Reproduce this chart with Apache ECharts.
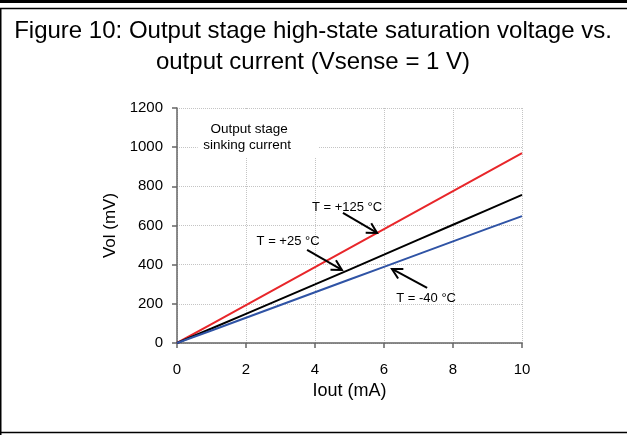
<!DOCTYPE html>
<html>
<head>
<meta charset="utf-8">
<script src="https://cdn.jsdelivr.net/npm/echarts@6/dist/echarts.min.js"></script>
<style>
html,body{margin:0;padding:0;background:#fff;}
#chart{width:627px;height:435px;}
</style>
</head>
<body>
<div id="chart"></div>
<script>
var currents = [0, 1, 2, 3, 4, 5, 6, 7, 8, 9, 10];
var volT125 = [0, 97, 194, 291, 388, 485, 582, 679, 776, 873, 970];
var volT25 = [0, 74, 149, 224, 299, 375, 451, 528, 604, 680, 756];
var volTm40 = [0, 64, 129, 194, 259, 324, 389, 454, 519, 584, 648];
var titleLines = ['Figure 10: Output stage high-state saturation voltage vs.', 'output current (Vsense = 1 V)'];
var annotations = [
  {text: 'T = +125 °C', x: 4.93, y: 694, from: [4.81, 664], to: [5.80, 562]},
  {text: 'T = +25 °C', x: 3.22, y: 521, from: [3.77, 475], to: [4.78, 373]},
  {text: 'T = -40 °C', x: 7.22, y: 230, from: [7.25, 281], to: [6.23, 378]}
];
var noteLines = ['Output stage', 'sinking current'];

function pairs(ys) { return currents.map(function (x, i) { return [x, ys[i]]; }); }

var FONT = '"Liberation Sans", Arial, sans-serif';
var chart = echarts.init(document.getElementById('chart'), null, {renderer: 'canvas'});

var option = {
  animation: false,
  backgroundColor: '#fff',
  grid: {left: 177, right: 105, top: 108, bottom: 92, containLabel: false},
  xAxis: {
    type: 'value', min: 0, max: 10, interval: 2,
    name: 'Iout (mA)', nameLocation: 'middle', nameGap: 32,
    nameTextStyle: {fontFamily: FONT, fontSize: 18, color: '#000'},
    axisLine: {show: true, onZero: false, lineStyle: {color: '#666', width: 1.5}},
    axisTick: {show: true, inside: false, length: 5, lineStyle: {color: '#666', width: 1.5}},
    axisLabel: {fontFamily: FONT, fontSize: 15, color: '#000', margin: 19, formatter: function (v) { return String(v); }},
    splitLine: {show: true, lineStyle: {color: '#c4c4c4', type: 'dotted', width: 1}}
  },
  yAxis: {
    type: 'value', min: 0, max: 1200, interval: 200,
    name: 'Vol (mV)', nameLocation: 'middle', nameGap: 56,
    nameTextStyle: {fontFamily: FONT, fontSize: 17, color: '#000'},
    axisLine: {show: true, onZero: false, lineStyle: {color: '#666', width: 1.5}},
    axisTick: {show: true, inside: false, length: 5, lineStyle: {color: '#666', width: 1.5}},
    axisLabel: {fontFamily: FONT, fontSize: 15, color: '#000', margin: 14, formatter: function (v) { return String(v); }},
    splitLine: {show: true, lineStyle: {color: '#c4c4c4', type: 'dotted', width: 1}}
  },
  series: [
    {type: 'line', name: 'T = +125 °C', data: pairs(volT125), showSymbol: false, lineStyle: {color: '#e8262a', width: 2}, z: 3},
    {type: 'line', name: 'T = +25 °C', data: pairs(volT25), showSymbol: false, lineStyle: {color: '#000000', width: 2}, z: 3},
    {type: 'line', name: 'T = -40 °C', data: pairs(volTm40), showSymbol: false, lineStyle: {color: '#2f53a5', width: 2}, z: 3}
  ]
};
chart.setOption(option);

function px(pt) { return chart.convertToPixel({gridIndex: 0}, pt); }

var g = [];
// frame lines
g.push({type: 'rect', shape: {x: 0, y: 0, width: 627, height: 3}, style: {fill: '#000'}, z: 100});
g.push({type: 'line', shape: {x1: 0, y1: 8.5, x2: 627, y2: 8.5}, style: {stroke: '#000', lineWidth: 1.5}, z: 100});
g.push({type: 'line', shape: {x1: 0.75, y1: 8, x2: 0.75, y2: 435}, style: {stroke: '#000', lineWidth: 1.5}, z: 100});
g.push({type: 'line', shape: {x1: 0, y1: 432.5, x2: 627, y2: 432.5}, style: {stroke: '#000', lineWidth: 1.5}, z: 100});
// title
g.push({type: 'text', x: 313, y: 31, style: {text: titleLines[0], font: '24px ' + FONT, fill: '#000', textAlign: 'center', textVerticalAlign: 'middle'}, z: 100});
g.push({type: 'text', x: 313, y: 62, style: {text: titleLines[1], font: '24px ' + FONT, fill: '#000', textAlign: 'center', textVerticalAlign: 'middle'}, z: 100});
// note with white box
var nb1 = px([0.6, 1190]);
var nb2 = px([4.1, 945]);
g.push({type: 'rect', shape: {x: nb1[0], y: nb1[1], width: nb2[0] - nb1[0], height: nb2[1] - nb1[1]}, style: {fill: '#fff'}, z: 50});
var n1 = px([2.09, 1093]);
var n2 = px([2.03, 1011]);
g.push({type: 'text', x: n1[0], y: n1[1], style: {text: noteLines[0], font: '13.5px ' + FONT, fill: '#000', textAlign: 'center', textVerticalAlign: 'middle'}, z: 60});
g.push({type: 'text', x: n2[0], y: n2[1], style: {text: noteLines[1], font: '13.5px ' + FONT, fill: '#000', textAlign: 'center', textVerticalAlign: 'middle'}, z: 60});
// annotations with arrows
annotations.forEach(function (a) {
  var p = px([a.x, a.y]);
  g.push({type: 'text', x: p[0], y: p[1], style: {text: a.text, font: '13px ' + FONT, fill: '#000', textAlign: 'center', textVerticalAlign: 'middle'}, z: 60});
  var s = px(a.from), e = px(a.to);
  var dx = e[0] - s[0], dy = e[1] - s[1];
  var len = Math.sqrt(dx * dx + dy * dy);
  var ux = dx / len, uy = dy / len;
  var hl = 10, hw = 5.5;
  var bx = e[0] - ux * hl, by = e[1] - uy * hl;
  var l1 = [bx - uy * hw, by + ux * hw];
  var l2 = [bx + uy * hw, by - ux * hw];
  g.push({type: 'line', shape: {x1: s[0], y1: s[1], x2: e[0], y2: e[1]}, style: {stroke: '#000', lineWidth: 2}, z: 60});
  g.push({type: 'polyline', shape: {points: [l1, e, l2]}, style: {stroke: '#000', lineWidth: 2, fill: null}, z: 60});
});
chart.setOption({graphic: g});
</script>
</body>
</html>
